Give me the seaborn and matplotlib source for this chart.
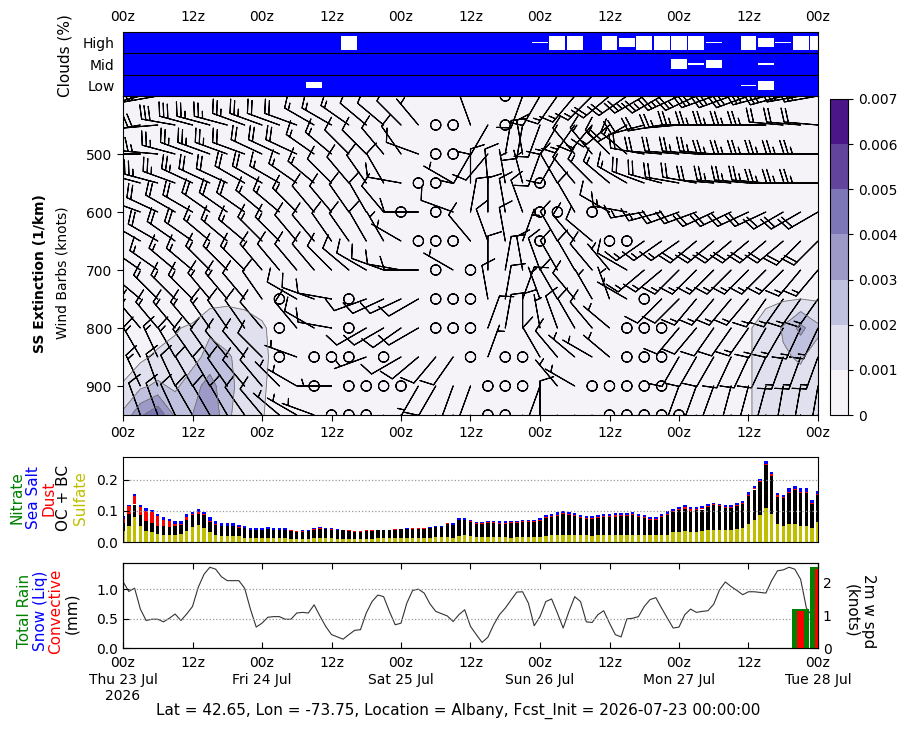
import numpy as np
import pandas as pd
import matplotlib
matplotlib.use("Agg")
import matplotlib.pyplot as plt
import seaborn as sns

sns.set_style("ticks")
plt.rcParams.update({
    "font.family": ["DejaVu Sans"],
    "font.size": 10,
    "text.color": "black",
    "axes.labelcolor": "black",
    "axes.edgecolor": "black",
    "xtick.color": "black",
    "ytick.color": "black",
})

W, H = 909, 730

# ---------------- time axis ----------------
hours = np.arange(0, 121)          # hourly output
hours_3h = np.arange(0, 121, 3)    # 3-hourly output
tick_hours = np.arange(0, 121, 12)
tick_top = ["00z", "12z", "00z", "12z", "00z", "12z", "00z", "12z", "00z", "12z", "00z"]
tick_bottom = ["00z\nThu 23 Jul\n2026", "12z", "00z\nFri 24 Jul", "12z", "00z\nSat 25 Jul", "12z",
               "00z\nSun 26 Jul", "12z", "00z\nMon 27 Jul", "12z", "00z\nTue 28 Jul"]

# ---------------- cloud cover (%), 3-hourly ----------------
cloud_high = [100, 100, 100, 100, 100, 100, 100, 100, 100, 100, 100, 100, 100, 33, 100, 100, 100, 100, 100, 100,
              100, 100, 100, 100, 95, 33, 33, 100, 33, 57, 33, 33, 33, 33, 95, 100, 33, 57, 95, 33, 33]
cloud_mid = [100, 100, 100, 100, 100, 100, 100, 100, 100, 100, 100, 100, 100, 100, 100, 100, 100, 100, 100, 100,
             100, 100, 100, 100, 100, 100, 100, 100, 100, 100, 100, 100, 56, 95, 65, 100, 100, 95, 100, 100, 100]
cloud_low = [100, 100, 100, 100, 100, 100, 100, 100, 100, 100, 100, 73, 100, 100, 100, 100, 100, 100, 100, 100,
             100, 100, 100, 100, 100, 100, 100, 100, 100, 100, 100, 100, 100, 100, 100, 100, 95, 60, 100, 100, 100]

# ---------------- winds (deg from, knots), 3-hourly x pressure ----------------
plev = [400, 450, 500, 550, 600, 650, 700, 750, 800, 850, 900, 950]
wind_dir = [
    [255, 255, 260, 275, 280, 280, 285, 285, 285, 290, 290, 295, 300, 300, 300, 305, 310, 320, 330, 340, 350, 10, 0,
     200, 210, 215, 220, 225, 230, 235, 240, 240, 245, 245, 250, 250, 250, 255, 255, 260, 260],
    [255, 260, 265, 280, 285, 285, 285, 290, 290, 290, 290, 300, 300, 305, 310, 310, 315, 320, 0, 0, 340, 210, 0,
     190, 200, 210, 215, 220, 230, 240, 255, 260, 265, 270, 270, 270, 270, 270, 275, 275, 275],
    [265, 270, 275, 285, 290, 290, 290, 290, 295, 295, 295, 305, 310, 315, 315, 320, 325, 290, 0, 0, 210, 220, 10,
     350, 200, 210, 320, 320, 315, 310, 280, 275, 275, 275, 275, 270, 270, 270, 270, 270, 270],
    [280, 285, 285, 290, 295, 295, 295, 300, 300, 300, 305, 310, 315, 320, 325, 330, 280, 0, 0, 300, 0, 355, 350, 345,
     0, 330, 320, 315, 310, 300, 290, 285, 280, 280, 275, 275, 275, 275, 270, 270, 270],
    [290, 290, 295, 300, 300, 305, 305, 305, 310, 310, 315, 320, 320, 325, 330, 320, 0, 270, 0, 290, 10, 0, 350, 340,
     0, 0, 330, 0, 300, 280, 260, 255, 250, 250, 245, 245, 245, 245, 240, 240, 240],
    [300, 300, 300, 305, 305, 310, 310, 310, 315, 315, 320, 320, 325, 325, 330, 330, 300, 0, 0, 0, 320, 340, 350, 20,
     0, 330, 320, 310, 0, 0, 235, 235, 235, 230, 230, 230, 230, 230, 230, 225, 225],
    [300, 305, 305, 310, 310, 315, 315, 315, 320, 320, 320, 320, 315, 310, 300, 290, 280, 270, 0, 300, 0, 0, 10, 350,
     340, 330, 330, 320, 320, 300, 230, 230, 225, 225, 225, 225, 225, 225, 225, 220, 220],
    [310, 310, 315, 315, 315, 320, 320, 320, 325, 0, 300, 290, 280, 0, 250, 245, 245, 240, 0, 0, 0, 350, 10, 20, 340,
     330, 320, 330, 340, 300, 0, 225, 225, 220, 220, 220, 220, 215, 215, 215, 215],
    [320, 320, 320, 320, 320, 325, 325, 325, 320, 0, 320, 300, 280, 0, 240, 240, 235, 240, 0, 0, 0, 20, 10, 0, 350,
     340, 330, 320, 310, 0, 0, 0, 220, 220, 215, 215, 215, 210, 210, 205, 205],
    [330, 330, 335, 330, 325, 325, 320, 320, 315, 0, 290, 0, 0, 0, 250, 0, 240, 230, 220, 215, 0, 20, 0, 0, 330, 320,
     310, 300, 310, 0, 0, 0, 210, 210, 210, 205, 205, 205, 200, 200, 200],
    [335, 335, 340, 335, 330, 330, 325, 320, 320, 315, 300, 0, 270, 0, 0, 0, 0, 210, 210, 200, 200, 0, 0, 0, 200, 320,
     300, 0, 0, 0, 0, 0, 200, 200, 200, 195, 195, 195, 190, 190, 190],
    [340, 340, 340, 335, 330, 330, 330, 325, 320, 310, 300, 290, 0, 0, 0, 200, 200, 195, 195, 200, 200, 0, 0, 200, 0,
     200, 200, 210, 0, 0, 0, 0, 0, 200, 195, 195, 190, 190, 190, 185, 185],
]
wind_spd = [
    [35, 35, 30, 30, 30, 30, 25, 25, 25, 25, 25, 20, 20, 15, 15, 15, 10, 10, 5, 5, 5, 5, 0, 10, 10, 15, 15, 15, 20,
     20, 25, 25, 25, 25, 30, 30, 30, 30, 30, 30, 30],
    [30, 30, 30, 30, 30, 25, 25, 25, 25, 20, 20, 15, 15, 15, 10, 10, 10, 5, 0, 0, 10, 10, 0, 10, 10, 15, 15, 15, 15,
     20, 20, 20, 25, 25, 25, 25, 25, 25, 20, 20, 20],
    [30, 30, 25, 25, 25, 25, 25, 20, 20, 20, 20, 15, 15, 10, 10, 10, 10, 10, 0, 0, 10, 10, 10, 10, 10, 10, 10, 15, 15,
     15, 20, 20, 20, 25, 25, 25, 25, 25, 25, 25, 25],
    [25, 25, 25, 25, 25, 20, 20, 20, 20, 15, 15, 15, 10, 10, 10, 10, 10, 0, 0, 5, 10, 10, 5, 5, 0, 10, 10, 15, 15, 15,
     20, 20, 20, 20, 20, 25, 25, 25, 25, 25, 25],
    [25, 20, 20, 20, 20, 20, 20, 20, 15, 15, 15, 10, 10, 10, 10, 10, 0, 10, 0, 10, 10, 10, 10, 10, 0, 0, 10, 0, 10, 15,
     15, 15, 20, 20, 20, 20, 20, 20, 20, 20, 20],
    [20, 20, 20, 20, 20, 15, 15, 15, 15, 15, 10, 10, 10, 10, 10, 5, 5, 0, 0, 0, 10, 10, 10, 5, 0, 10, 10, 10, 0, 0, 15,
     15, 15, 20, 20, 20, 20, 20, 20, 20, 20],
    [15, 15, 15, 15, 15, 15, 15, 15, 15, 10, 10, 10, 10, 10, 10, 10, 10, 10, 0, 5, 0, 10, 10, 10, 10, 10, 10, 10, 5,
     10, 15, 15, 15, 15, 15, 15, 15, 15, 15, 15, 15],
    [15, 15, 15, 15, 15, 15, 15, 10, 10, 0, 10, 10, 10, 0, 10, 10, 10, 10, 0, 0, 0, 10, 10, 10, 5, 10, 10, 5, 5, 5, 0,
     10, 10, 15, 15, 15, 15, 15, 15, 15, 15],
    [15, 15, 15, 15, 15, 15, 10, 10, 10, 0, 10, 10, 10, 0, 10, 10, 10, 10, 0, 0, 0, 10, 10, 10, 5, 10, 10, 10, 5, 0, 0,
     0, 10, 10, 10, 10, 15, 15, 15, 15, 15],
    [15, 15, 15, 15, 15, 10, 10, 10, 10, 0, 5, 0, 0, 0, 5, 0, 10, 10, 10, 10, 0, 5, 0, 0, 10, 10, 5, 5, 5, 0, 0, 0, 10,
     10, 10, 10, 10, 10, 15, 15, 15],
    [15, 15, 15, 10, 10, 10, 10, 10, 10, 5, 5, 0, 5, 0, 0, 0, 0, 5, 10, 10, 10, 0, 0, 0, 10, 5, 5, 0, 0, 0, 0, 0, 10,
     10, 10, 10, 10, 10, 10, 10, 10],
    [15, 10, 10, 10, 10, 10, 10, 10, 10, 5, 5, 5, 0, 0, 0, 5, 10, 10, 10, 10, 5, 0, 0, 5, 10, 5, 5, 5, 0, 0, 0, 0, 0,
     5, 10, 10, 10, 10, 10, 10, 10],
]

# ---------------- sea-salt extinction (1/km), 3-hourly x pressure ----------------
zero_row = [0.0] * 41
ext_750 = [0, 0, 0, 0, 0, .0006, .0008, .0007, .0004, 0, 0] + [0.0] * 24 + [0, .0005, .0008, .0009, .0010, .0009]
ext_800 = [0, 0, .0005, .0009, .0012, .0018, .0016, .0015, .0012, .0004, 0] + [0.0] * 24 + [0, .0009, .0014, .0021, .0033, .0022]
ext_850 = [.0004, .0008, .0012, .0013, .0016, .0024, .0021, .0017, .0013, .0005, 0] + [0.0] * 24 + [0, .0009, .0014, .0019, .0021, .0016]
ext_900 = [.0011, .0018, .0022, .0018, .0026, .0034, .0023, .0016, .0012, .0004, 0] + [0.0] * 24 + [0, .0009, .0014, .0016, .0017, .0014]
ext_950 = [.0022, .0038, .0048, .0028, .0030, .0040, .0022, .0014, .0011, .0003, 0] + [0.0] * 24 + [0, .0009, .0014, .0015, .0016, .0013]
ext = [zero_row] * 7 + [ext_750, ext_800, ext_850, ext_900, ext_950]
ext_levels = [0, 0.001, 0.002, 0.003, 0.004, 0.005, 0.006, 0.007]
ext_labels = ["0", "0.001", "0.002", "0.003", "0.004", "0.005", "0.006", "0.007"]

# ---------------- aerosol species (hourly) ----------------
sulfate = [.034, .050, .079, .050, .034, .031, .026, .021, .021, .021, .025, .034, .047, .053, .045, .031, .021,
           .019, .019, .019, .019, .014, .014, .012, .012, .012, .012, .012, .012,
           .011, .011, .011, .011, .012, .012, .012, .012, .011, .011, .011, .011, .011, .011, .011, .012, .012, .012,
           .012, .012, .012, .012, .012, .013, .013, .015, .015, .016,
           .012, .018, .021, .018, .015, .015, .015, .015, .015, .015, .012, .015, .015, .015, .015, .015, .018, .021,
           .021, .024, .024, .021, .021, .021, .018, .021, .021, .021, .021, .021, .024, .024, .024, .021, .021, .021,
           .021, .024, .031, .031, .034, .031, .031, .034, .037, .037, .037, .037, .037, .041, .044, .057, .070, .086,
           .108, .089, .057, .050, .057, .057, .050, .050, .044, .063]
ocbc = [.027, .039, .041, .035, .032, .030, .026, .029, .027, .029, .031, .038, .038, .038, .040, .033, .032,
        .031, .031, .031, .027, .030, .024, .026, .026, .029, .026, .026, .026,
        .024, .022, .022, .023, .027, .029, .029, .028, .028, .027, .025, .022, .022, .025, .025, .025, .026, .026,
        .027, .029, .030, .031, .031, .030, .032, .032, .033, .043,
        .042, .051, .049, .045, .043, .042, .045, .045, .044, .044, .048, .047, .048, .048, .049, .052, .058, .059,
        .063, .065, .064, .063, .057, .052, .055, .056, .058, .058, .060, .062, .058, .063, .056, .057, .051, .051,
        .060, .064, .066, .071, .073, .069, .071, .070, .075, .080, .078, .072, .072, .075, .077, .090, .098, .105,
        .138, .123, .088, .091, .101, .109, .107, .107, .079, .088]
dust = [.014, .025, .028, .027, .034, .035, .031, .022, .018, .008, .003, .008, .006, .006, .006, .004, .005,
        .002, .002, .002, .002, .002, .002, .002, .002, .002, .002, .002, .002,
        .002, .001, .001, .002, .002, .003, .002, .002, .001, .001, .001, .002, .002, .001, .001, .002, .002, .001,
        .002, .001, .001, .001, .001, .002, .001, .001, .001, .001,
        .002, .002, .002, .003, .002, .004, .003, .003, .003, .003, .003, .002, .003, .003, .003, .003, .004, .004,
        .004, .003, .003, .003, .003, .004, .004, .004, .004, .004, .004, .003, .003, .003, .004, .003, .003, .003,
        .003, .003, .003, .003, .004, .004, .003, .004, .004, .003, .003, .003, .003, .003, .003, .004, .005, .004,
        .004, .004, .004, .003, .003, .003, .003, .003, .003, .004]
seasalt = [.007, .006, .006, .005, .010, .008, .006, .007, .009, .008, .007, .009, .006, .008, .006, .011, .008,
           .008, .008, .008, .005, .004, .004, .004, .004, .004, .004, .004, .004,
           .003, .002, .003, .002, .003, .003, .003, .002, .002, .001, .001, .000, .000, .001, .001, .001, .000, .001,
           .001, .001, .001, .001, .001, .001, .002, .002, .003, .002,
           .004, .005, .004, .004, .003, .002, .003, .003, .004, .004, .003, .002, .004, .004, .003, .006, .006, .005,
           .007, .006, .004, .005, .005, .005, .005, .005, .006, .006, .007, .006, .007, .005, .005, .005, .004, .004,
           .005, .007, .005, .006, .007, .007, .006, .006, .005, .004, .003, .006, .006, .005, .006, .008, .006, .006,
           .009, .008, .007, .006, .011, .010, .012, .012, .008, .008]
nitrate = [0.0] * 121

# ---------------- precipitation (mm, 3-hourly) and 2 m wind (knots, hourly) ----------------
total_rain = [0.0] * 39 + [0.66, 1.376]
snow_liq = [0.0] * 41
convective = [0.0] * 39 + [0.63, 1.34]
wind_2m = [2.03, 1.73, 1.83, 1.19, 0.84, 0.88, 0.88, 0.80, 0.91, 1.04, 0.84, 1.04, 1.27, 1.86, 2.26, 2.47, 2.41,
           2.18, 2.06, 2.06, 2.06, 1.83, 1.19, 0.64, 0.76, 0.94, 0.96, 0.96, 0.88, 0.88, 1.07, 1.09, 1.07, 1.32,
           0.98, 0.66, 0.41, 0.34, 0.27, 0.41, 0.54, 0.56, 1.07, 1.42, 1.62, 1.57, 1.12, 0.71, 0.76, 1.37, 1.76,
           1.80, 1.68, 1.35, 1.12, 1.05, 0.98, 0.81, 1.02,
           1.17, 0.66, 0.41, 0.17, 0.33, 0.71, 1.02, 1.22, 1.47, 1.71, 1.72, 1.37, 0.68, 0.96, 1.42, 1.50, 1.07,
           0.61, 1.12, 1.57, 1.42, 0.80, 0.78, 1.02, 1.14, 0.76, 0.41, 0.34, 0.89, 0.91, 0.96, 1.27, 1.48, 1.54,
           1.22, 0.91, 0.61, 0.64, 1.02, 1.19, 1.09, 1.12, 1.14, 1.34, 1.78, 2.02, 1.88, 1.76, 1.63, 1.72, 1.72,
           1.70, 1.68, 2.06, 2.36, 2.39, 2.47, 2.41, 2.10, 1.22, 0.98, 1.09]

footer = "Lat = 42.65, Lon = -73.75, Location = Albany, Fcst_Init = 2026-07-23 00:00:00"


def px_rect(x0, y0, x1, y1):
    return [x0 / W, 1 - y1 / H, (x1 - x0) / W, (y1 - y0) / H]


def fig_label(x, y, s, **kw):
    fig.text(x / W, 1 - y / H, s, ha="center", va="center", **kw)


fig = plt.figure(figsize=(W / 100, H / 100), dpi=100)

# --- clouds ---
ax_c = fig.add_axes(px_rect(123, 32, 818, 96))
ax_c.set_facecolor("blue")
for row, cover in enumerate([cloud_low, cloud_mid, cloud_high]):
    gap = (100 - np.asarray(cover, dtype=float)) / 100.0
    ax_c.bar(hours_3h, gap, width=2.75, bottom=row + 0.5 - gap / 2, color="white", linewidth=0)
for yy in (1, 2):
    ax_c.axhline(yy, color="black", lw=0.8)
ax_c.set_xlim(0, 120)
ax_c.set_ylim(0, 3)
ax_c.set_yticks([0.5, 1.5, 2.5], ["Low", "Mid", "High"])
ax_c.xaxis.tick_top()
ax_c.set_xticks(tick_hours, tick_top)
ax_c.tick_params(axis="both", length=0, pad=6)
fig_label(65, 56, "Clouds (%)", rotation=90, fontsize=11)

# --- extinction + barbs ---
ax_m = fig.add_axes(px_rect(123, 96, 818, 415))
ext_arr = np.asarray(ext)
cs = ax_m.contourf(hours_3h, plev, ext_arr, levels=ext_levels, cmap="Purples")
ax_m.contour(hours_3h, plev, ext_arr, levels=ext_levels[1:], colors="0.45", linewidths=0.6)
dirs = np.deg2rad(np.asarray(wind_dir, dtype=float))
spds = np.asarray(wind_spd, dtype=float)
U = -spds * np.sin(dirs)
V = -spds * np.cos(dirs)
XX, YY = np.meshgrid(hours_3h, plev)
ax_m.barbs(XX, YY, U, V, length=7, linewidth=0.8, color="black")
ax_m.set_xlim(0, 120)
ax_m.set_ylim(950, 400)
ax_m.set_yticks([500, 600, 700, 800, 900])
ax_m.set_xticks(tick_hours, tick_top)
ax_m.tick_params(direction="out", length=4.5)
fig_label(40, 274, "SS Extinction (1/km)", rotation=90, fontweight="bold")
fig_label(63, 273, "Wind Barbs (knots)", rotation=90)

cax = fig.add_axes(px_rect(830, 99, 848, 415))
cb = fig.colorbar(cs, cax=cax, ticks=ext_levels)
cb.ax.set_yticklabels(ext_labels)
cb.outline.set_linewidth(0.8)

# --- aerosol optical depth stack ---
ax_a = fig.add_axes(px_rect(123, 457, 818, 542))
species = pd.DataFrame({"Sulfate": sulfate, "OC + BC": ocbc, "Dust": dust,
                        "Sea Salt": seasalt, "Nitrate": nitrate}, index=hours)
colors = {"Sulfate": "y", "OC + BC": "black", "Dust": "red", "Sea Salt": "blue", "Nitrate": "green"}
base = np.zeros(len(hours))
for name in species.columns:
    ax_a.bar(hours, species[name].values, width=0.6, bottom=base, color=colors[name], linewidth=0)
    base = base + species[name].values
ax_a.set_xlim(0, 120)
ax_a.set_ylim(0, 0.272)
ax_a.set_yticks([0.0, 0.1, 0.2])
ax_a.set_xticks(tick_hours, [])
ax_a.tick_params(axis="x", length=0)
ax_a.tick_params(axis="y", direction="in", length=4)
ax_a.yaxis.grid(True, ls=":", color="0.6", lw=0.9)
ax_a.set_axisbelow(False)
for x, name in zip([17, 33, 49, 63, 80], ["Nitrate", "Sea Salt", "Dust", "OC + BC", "Sulfate"]):
    fig_label(x, 498, name, rotation=90, fontsize=11, color=colors[name])

# --- precipitation + 2 m wind ---
ax_p = fig.add_axes(px_rect(123, 563, 818, 648))
ax_w = ax_p.twinx()
sns.lineplot(x=hours, y=wind_2m, ax=ax_w, color="0.2", lw=0.8)
ax_w.set_ylim(0, 2.6)
ax_w.set_yticks([0, 1, 2])
ax_w.set_ylabel("")
ax_w.tick_params(axis="y", direction="in", length=4)

ax_p.set_zorder(ax_w.get_zorder() + 1)
ax_p.patch.set_visible(False)
ax_p.bar(hours_3h, total_rain, width=2.85, color="green", linewidth=0)
ax_p.bar(hours_3h, snow_liq, width=2.85, color="blue", linewidth=0)
ax_p.bar(hours_3h, convective, width=1.15, color="red", linewidth=0)
ax_p.set_xlim(0, 120)
ax_p.set_ylim(0, 1.445)
ax_p.set_yticks([0.0, 0.5, 1.0])
ax_p.set_xticks(tick_hours, tick_bottom)
ax_p.tick_params(axis="x", direction="in", length=4, top=True, pad=6)
ax_p.tick_params(axis="y", direction="in", length=4)
ax_p.yaxis.grid(True, ls=":", color="0.6", lw=0.9)

fig_label(25, 611, "Total Rain", rotation=90, fontsize=11, color="green")
fig_label(40, 611, "Snow (Liq)", rotation=90, fontsize=11, color="blue")
fig_label(56, 611, "Convective", rotation=90, fontsize=11, color="red")
fig_label(72, 613, "(mm)", rotation=90, fontsize=11)
fig_label(860, 611, "2m w spd\n(knots)", rotation=270, fontsize=11)

fig_label(458, 711, footer, fontsize=11)

fig.savefig("out.png", dpi=100)
